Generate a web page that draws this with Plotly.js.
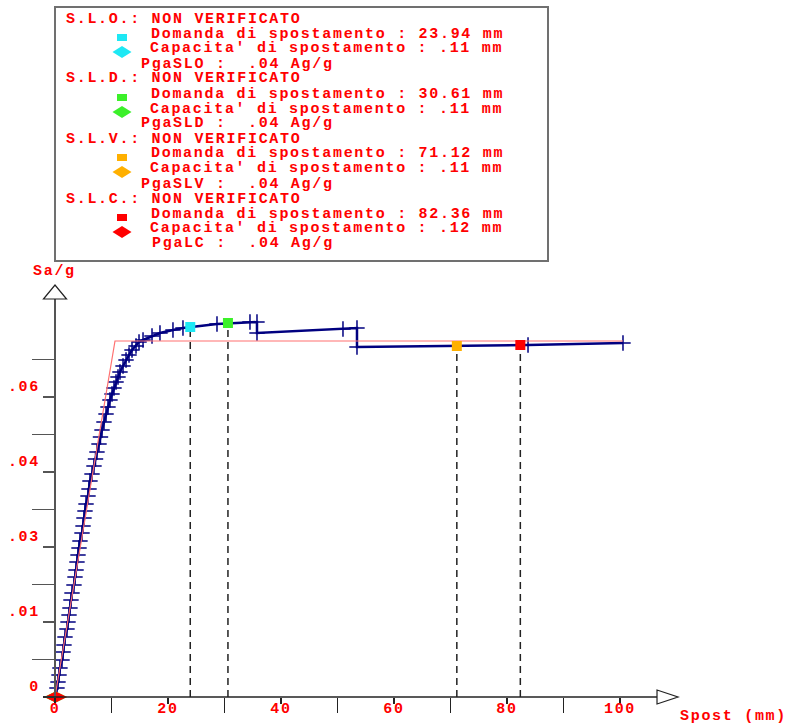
<!DOCTYPE html>
<html><head><meta charset="utf-8">
<script src="https://cdn.plot.ly/plotly-3.0.1.min.js"></script>
<style>
html,body{margin:0;padding:0;background:#fff;}
#chart{width:786px;height:725px;}
.main-svg text{letter-spacing:1.7px;}
</style></head><body><div id="chart"></div>
<script>
// ---- data ----
const displacement = [0, 0.35, 0.53, 0.71, 0.88, 1.24, 1.42, 1.59, 1.77, 2.12, 2.30, 2.48, 2.65, 2.83, 3.01, 3.36, 3.54, 3.72, 3.89, 4.07, 4.25, 4.42, 4.78, 4.96, 5.13, 5.31, 5.49, 5.84, 6.02, 6.19, 6.55, 6.90, 7.17, 7.43, 7.79, 8.05, 8.32, 8.67, 9.03, 9.38, 9.73, 10.09, 10.44, 10.80, 11.15, 11.50, 12.04, 12.57, 13.10, 13.63, 14.34, 14.87, 15.58, 17.17, 18.58, 20.88, 22.65, 28.67, 34.51, 35.75, 35.75, 50.97, 53.45, 53.45, 83.72, 100.53];
const saG = [0, 0.0018, 0.0030, 0.0044, 0.0058, 0.0074, 0.0090, 0.0104, 0.0120, 0.0136, 0.0150, 0.0164, 0.0178, 0.0194, 0.0208, 0.0224, 0.0240, 0.0254, 0.0270, 0.0284, 0.0298, 0.0312, 0.0328, 0.0342, 0.0358, 0.0372, 0.0386, 0.0402, 0.0416, 0.0432, 0.0446, 0.0462, 0.0476, 0.0490, 0.0506, 0.0520, 0.0534, 0.0550, 0.0566, 0.0580, 0.0594, 0.0606, 0.0618, 0.0630, 0.0640, 0.0650, 0.0662, 0.0674, 0.0684, 0.0694, 0.0702, 0.0710, 0.0714, 0.0722, 0.0728, 0.0734, 0.0738, 0.0746, 0.0750, 0.0750, 0.0728, 0.0736, 0.0738, 0.0700, 0.0704, 0.0708];
const bilinearDisp = [0, 10.62, 100.53];
const bilinearSa = [0, 0.0712, 0.0712];

const levels = ['S.L.O.', 'S.L.D.', 'S.L.V.', 'S.L.C.'];
const status = ['NON VERIFICATO', 'NON VERIFICATO', 'NON VERIFICATO', 'NON VERIFICATO'];
const demand = [23.94, 30.61, 71.12, 82.36];
const demandSa = [0.0740, 0.0748, 0.0702, 0.0704];
const capacity = [0.11, 0.11, 0.11, 0.12];
const pgaNames = ['PgaSLO', 'PgaSLD', 'PgaSLV', 'PgaLC'];
const pgaValues = ['.04', '.04', '.04', '.04'];

const xTickVals = [0, 20, 40, 60, 80, 100];
const xTickText = ['0', '20', '40', '60', '80', '100'];
const xMinorVals = [10, 30, 50, 70, 90];
const yTickVals = [0, 0.015, 0.03, 0.045, 0.06];
const yTickText = ['0', '.01', '.03', '.04', '.06'];
const yMinorVals = [0.0075, 0.0225, 0.0375, 0.0525, 0.0675];

// ---- styles ----
const levelColors = ['#1ee8f4', '#3cf02a', '#ffb000', '#ff0000'];
const RED = '#ff0000';
const NAVY = '#000080';
const W = 786, H = 725;
const FONT = {family: 'Liberation Mono', size: 15, color: RED, weight: 'bold'};
const px = v => v / W;
const py = v => 1 - v / H;
const fmtCap = v => v.toFixed(2).replace(/^0/, '');

const traces = [];
demand.forEach((d, i) => {
  traces.push({x: [d, d], y: [0, demandSa[i]], mode: 'lines',
    line: {color: '#222', width: 1.5, dash: '7px,5px'}, hoverinfo: 'skip'});
});
traces.push({x: displacement, y: saG, mode: 'lines+markers',
  line: {color: NAVY, width: 2.5},
  marker: {symbol: 'cross-thin', size: 11, line: {color: NAVY, width: 1.5}}});
traces.push({x: bilinearDisp, y: bilinearSa, mode: 'lines',
  line: {color: '#ff7070', width: 1.2}});
traces.push({x: demand, y: demandSa, mode: 'markers',
  marker: {symbol: 'square', size: 10, color: levelColors}});
traces.push({x: capacity, y: capacity.map(() => 0), mode: 'markers',
  marker: {symbol: 'diamond-wide', size: 16, color: levelColors}});

const shapes = [
  // text box
  {type: 'rect', xref: 'paper', yref: 'paper', x0: px(55), x1: px(548), y0: py(261), y1: py(7),
   line: {color: '#707070', width: 2}},
  // y axis line + arrow
  {type: 'line', xref: 'x', yref: 'y', x0: 0, x1: 0, y0: 0, y1: 0.0796, line: {color: '#555', width: 2}},
  {type: 'path', xref: 'x', yref: 'y', path: 'M -2.04,0.0796 L 2.04,0.0796 L 0,0.0824 Z',
   line: {color: '#222', width: 1.2}, fillcolor: '#fff'},
  // x axis line + arrow
  {type: 'line', xref: 'x', yref: 'y', x0: -2.12, x1: 106.55, y0: 0, y1: 0, line: {color: '#222', width: 1.5}},
  {type: 'path', xref: 'x', yref: 'y', path: 'M 106.55,0.0014 L 106.55,-0.0014 L 110.27,0 Z',
   line: {color: '#222', width: 1.2}, fillcolor: '#fff'}
];

const annotations = [];
function txt(text, x, y, anchor) {
  annotations.push({text: text, xref: 'paper', yref: 'paper', x: px(x), y: py(y),
    xanchor: anchor || 'left', yanchor: 'middle', align: 'left', showarrow: false,
    font: FONT, borderpad: 0, borderwidth: 0});
}
levels.forEach((lv, k) => {
  const base = 19 + 60 * k;
  txt(lv + ': ' + status[k], 66, base);
  txt('Domanda di spostamento : ' + demand[k].toFixed(2) + ' mm', 151, base + 15);
  txt("Capacita' di spostamento : " + fmtCap(capacity[k]) + ' mm', 150, base + 30);
  txt(pgaNames[k] + ' : \u00a0' + pgaValues[k] + ' Ag/g', k === 3 ? 152 : 141, base + 45);
  // legend glyphs
  shapes.push({type: 'rect', xref: 'paper', yref: 'paper', x0: px(117), x1: px(127),
    y0: py(base + 22), y1: py(base + 15), fillcolor: levelColors[k], line: {width: 0}});
  shapes.push({type: 'path', xref: 'paper', yref: 'paper',
    path: 'M ' + px(112.5) + ',' + py(base + 33) + ' L ' + px(122) + ',' + py(base + 27) +
          ' L ' + px(131.5) + ',' + py(base + 33) + ' L ' + px(122) + ',' + py(base + 39) + ' Z',
    fillcolor: levelColors[k], line: {width: 0}});
});
txt('Sa/g', 33, 271);
txt('Spost (mm)', 680, 716);

const layout = {
  width: W, height: H, margin: {l: 0, r: 0, t: 0, b: 0},
  paper_bgcolor: '#fff', plot_bgcolor: '#fff', showlegend: false, hovermode: false,
  xaxis: {range: [-55 / 5.65, (W - 55) / 5.65], anchor: 'free', position: 1 - 697 / H,
    showgrid: false, zeroline: false, showline: false,
    tickmode: 'array', tickvals: xTickVals, ticktext: xTickText,
    ticks: 'outside', ticklen: 6, tickwidth: 1.5, tickcolor: '#222', tickfont: FONT,
    ticklabelstandoff: -9,
    minor: {tickmode: 'array', tickvals: xMinorVals, ticks: 'outside', ticklen: 15, tickwidth: 1.5, tickcolor: '#222'}},
  yaxis: {range: [-(H - 697) / 5000, 697 / 5000], anchor: 'free', position: 55 / W,
    showgrid: false, zeroline: false, showline: false,
    tickmode: 'array', tickvals: yTickVals, ticktext: yTickText,
    ticks: 'outside', ticklen: 12, tickwidth: 1.5, tickcolor: '#555', tickfont: FONT,
    ticklabelshift: -11,
    minor: {tickmode: 'array', tickvals: yMinorVals, ticks: 'outside', ticklen: 23, tickwidth: 1.5, tickcolor: '#555'}},
  shapes: shapes, annotations: annotations
};
Plotly.newPlot('chart', traces, layout, {displayModeBar: false, staticPlot: true});
</script></body></html>
